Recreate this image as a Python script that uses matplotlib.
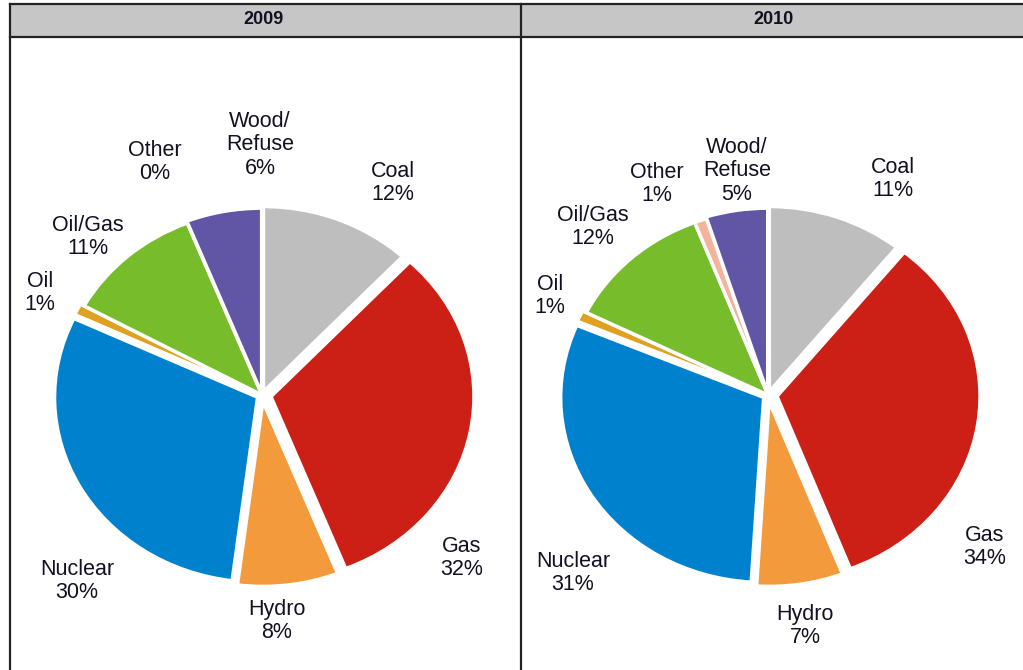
#!/usr/bin/env python3

import matplotlib
matplotlib.use("Agg")
import matplotlib.pyplot as plt
from matplotlib.patches import Rectangle
from matplotlib.lines import Line2D

plt.rcParams['font.family'] = ['Liberation Sans', 'DejaVu Sans']

# --- data -------------------------------------------------------------
sources = ["Coal", "Gas", "Hydro", "Nuclear", "Oil", "Oil/Gas", "Other", "Wood/\nRefuse"]
share_2009 = [12, 32, 8, 30, 1, 11, 0, 6]
share_2010 = [11, 34, 7, 31, 1, 12, 1, 5]
years = ["2009", "2010"]

colors = ["#BEBEBE", "#CC1F16", "#F39A3D", "#0081CE", "#E0A020",
          "#77BC2A", "#F4B39C", "#6155A5"]
explode = [0.02, 0.045, 0.035, 0.025, 0.02, 0.0, 0.0, 0.01]

# --- layout (pixels, image is 1023 x 670) ------------------------------
W, H = 1023, 670
centers = [(262, 395), (768, 395)]
rx, ry = 203, 185
# label centres, pixel offset from pie centre (dx right, dy down)
label_off = [
    [(131, -212), (200, 163), (15, 226), (-185, 186), (-222, -102),
     (-174, -158), (-107, -233), (-2, -250)],
    [(125, -216), (217, 152), (37, 231), (-195, 178), (-218, -99),
     (-175, -168), (-111, -211), (-31, -224)],
]

fig = plt.figure(figsize=(W / 100, H / 100), dpi=100)


def fx(x):
    return x / W


def fy(y):
    return 1 - y / H


# header band and frame
fig.patches.append(Rectangle((fx(10), fy(37)), fx(1030 - 10), fy(4) - fy(37),
                             transform=fig.transFigure, facecolor="#C6C6C6",
                             edgecolor="none", zorder=0))
for x0, y0, x1, y1 in [(10, 4, 1023, 4), (10, 37, 1023, 37),
                       (10, 4, 10, 670), (521, 4, 521, 670)]:
    fig.add_artist(Line2D([fx(x0), fx(x1)], [fy(y0), fy(y1)],
                          transform=fig.transFigure, color="#222222", lw=1.6))

panel_mid = [264, 773]
for xm, yr in zip(panel_mid, years):
    fig.text(fx(xm), fy(20), yr, ha="center", va="center",
             fontsize=13, fontweight="bold", color="#111122")

for (cx, cy), vals, offs in zip(centers, [share_2009, share_2010], label_off):
    lim = 1.3
    aw, ah = 2 * lim * rx, 2 * lim * ry
    ax = fig.add_axes([fx(cx - aw / 2), fy(cy + ah / 2), aw / W, ah / H])
    ax.pie(vals, colors=colors, explode=explode, startangle=90,
           counterclock=False,
           wedgeprops=dict(edgecolor="white", linewidth=2.5))
    ax.set_aspect("auto")
    ax.set_xlim(-lim, lim)
    ax.set_ylim(-lim, lim)
    ax.axis("off")
    for name, v, (dx, dy) in zip(sources, vals, offs):
        ax.text(dx / rx, -dy / ry, f"{name}\n{v}%", ha="center", va="center",
                fontsize=15.5, linespacing=1.15, color="#111122", clip_on=False)

fig.savefig("out.png", dpi=100)
